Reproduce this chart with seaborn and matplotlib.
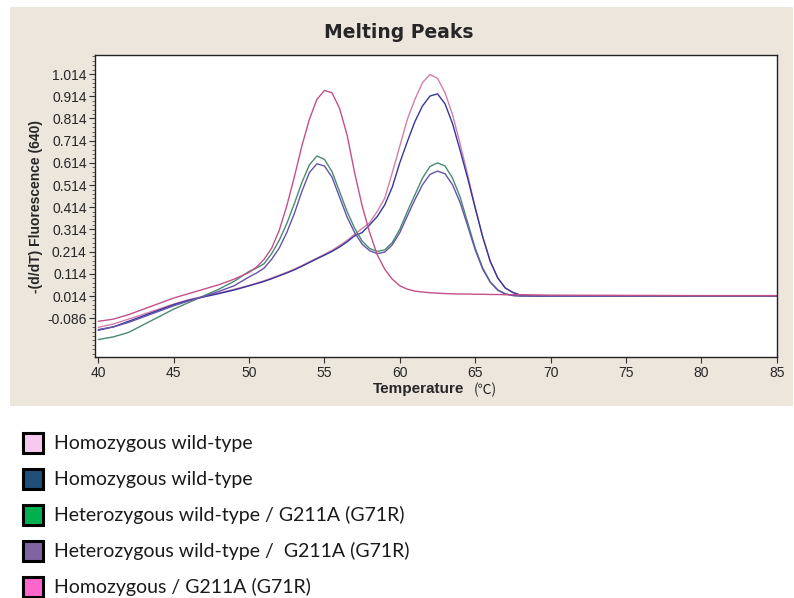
import matplotlib
matplotlib.use("Agg")
import matplotlib.pyplot as plt
from matplotlib.patches import Rectangle
from matplotlib.ticker import FixedLocator
import pandas as pd
import seaborn as sns

# temperature grid (degC)
temps = [40, 41, 42, 43, 44, 45, 46, 47, 48, 49,
         50, 50.5, 51, 51.5, 52, 52.5, 53, 53.5, 54, 54.5,
         55, 55.5, 56, 56.5, 57, 57.5, 58, 58.5, 59, 59.5,
         60, 60.5, 61, 61.5, 62, 62.5, 63, 63.5, 64, 64.5,
         65, 65.5, 66, 66.5, 67, 67.5, 68, 69, 70, 75, 80, 85]

# -(d/dT) fluorescence for each sample
wt_pink = [-0.127, -0.112, -0.090, -0.068, -0.045, -0.022, -0.002, 0.013, 0.028, 0.044,
           0.062, 0.072, 0.083, 0.095, 0.108, 0.121, 0.135, 0.151, 0.168, 0.185,
           0.202, 0.220, 0.241, 0.265, 0.292, 0.318, 0.345, 0.395, 0.455, 0.570,
           0.690, 0.810, 0.900, 0.975, 1.012, 0.995, 0.930, 0.830, 0.700, 0.560,
           0.415, 0.280, 0.170, 0.095, 0.050, 0.030, 0.018, 0.015, 0.015, 0.015, 0.015, 0.015]
wt_blue = [-0.140, -0.125, -0.100, -0.075, -0.050, -0.025, -0.005, 0.010, 0.025, 0.041,
           0.060, 0.070, 0.080, 0.092, 0.105, 0.118, 0.132, 0.148, 0.165, 0.182,
           0.198, 0.215, 0.235, 0.258, 0.285, 0.300, 0.335, 0.372, 0.425, 0.505,
           0.615, 0.710, 0.800, 0.870, 0.915, 0.925, 0.880, 0.790, 0.670, 0.545,
           0.410, 0.280, 0.170, 0.095, 0.050, 0.030, 0.018, 0.014, 0.014, 0.014, 0.014, 0.014]
het_green = [-0.182, -0.170, -0.150, -0.115, -0.080, -0.045, -0.015, 0.015, 0.045, 0.080,
             0.125, 0.140, 0.160, 0.205, 0.265, 0.340, 0.430, 0.525, 0.605, 0.645,
             0.630, 0.575, 0.485, 0.395, 0.320, 0.262, 0.228, 0.215, 0.222, 0.255,
             0.315, 0.395, 0.470, 0.545, 0.598, 0.614, 0.600, 0.545, 0.460, 0.345,
             0.230, 0.140, 0.078, 0.042, 0.024, 0.017, 0.014, 0.014, 0.014, 0.014, 0.014, 0.014]
het_purple = [-0.137, -0.125, -0.105, -0.080, -0.055, -0.030, -0.008, 0.012, 0.035, 0.060,
              0.100, 0.118, 0.140, 0.180, 0.230, 0.300, 0.385, 0.485, 0.570, 0.610,
              0.600, 0.550, 0.460, 0.370, 0.300, 0.248, 0.218, 0.205, 0.212, 0.245,
              0.300, 0.375, 0.448, 0.515, 0.562, 0.577, 0.565, 0.515, 0.435, 0.330,
              0.222, 0.135, 0.076, 0.040, 0.023, 0.016, 0.014, 0.014, 0.014, 0.014, 0.014, 0.014]
hom_mut = [-0.100, -0.090, -0.070, -0.045, -0.020, 0.005, 0.025, 0.045, 0.065, 0.090,
           0.120, 0.145, 0.180, 0.230, 0.310, 0.420, 0.550, 0.690, 0.810, 0.900,
           0.940, 0.930, 0.860, 0.740, 0.570, 0.420, 0.300, 0.200, 0.135, 0.090,
           0.060, 0.045, 0.036, 0.032, 0.029, 0.027, 0.025, 0.024, 0.023, 0.023,
           0.022, 0.022, 0.021, 0.021, 0.020, 0.020, 0.020, 0.019, 0.018, 0.017, 0.016, 0.016]

sample_names = ["wt_pink", "wt_blue", "het_green", "het_purple", "hom_mut"]
line_colors = ["#d27fa9", "#36369a", "#4a8a72", "#6454aa", "#c4508a"]

legend_labels = ["Homozygous wild-type", "Homozygous wild-type",
                 "Heterozygous wild-type / G211A (G71R)",
                 "Heterozygous wild-type /  G211A (G71R)",
                 "Homozygous / G211A (G71R)"]
legend_colors = ["#f9c8ef", "#1f4e79", "#00b050", "#8064a2", "#ff66cc"]

ytick_vals = [1.014, 0.914, 0.814, 0.714, 0.614, 0.514, 0.414, 0.314, 0.214, 0.114, 0.014, -0.086]

df = pd.DataFrame({
    "Temperature": temps * 5,
    "Fluor": wt_pink + wt_blue + het_green + het_purple + hom_mut,
    "Sample": sum([[n] * len(temps) for n in sample_names], []),
})

sns.set_style("white")
plt.rcParams["font.family"] = ["Liberation Sans", "DejaVu Sans"]

fig = plt.figure(figsize=(7.94, 5.98), dpi=100)
fig.patch.set_facecolor("white")
# beige panel behind the chart
fig.patches.append(Rectangle((10 / 794, 1 - 406 / 598), 783 / 794, 399 / 598,
                             transform=fig.transFigure, facecolor="#ece6dd",
                             edgecolor="none", zorder=-5))

ax = fig.add_axes([95 / 794, 1 - 357.3 / 598, 681.7 / 794, 302.3 / 598])
ax.set_zorder(2)
ax.set_facecolor("white")
sns.lineplot(data=df, x="Temperature", y="Fluor", hue="Sample",
             palette=dict(zip(sample_names, line_colors)), linewidth=1.0,
             legend=False, ax=ax)

ax.set_xlim(39.78, 85)
ax.set_ylim(-0.262, 1.100)
ax.set_xticks([40, 45, 50, 55, 60, 65, 70, 75, 80, 85])
ax.yaxis.set_major_locator(FixedLocator(ytick_vals))
ax.set_yticklabels([f"{v:.3f}" for v in ytick_vals])
ax.yaxis.set_minor_locator(FixedLocator([-0.086 + 0.02 * i for i in range(-8, 60)]))
ax.tick_params(axis="both", which="major", direction="out", length=4, width=0.8,
               labelsize=10, color="#333333", pad=2)
ax.tick_params(axis="y", which="minor", direction="out", length=2, width=0.6,
               color="#555555", left=True)
ax.tick_params(left=True, bottom=True)
for s in ax.spines.values():
    s.set_visible(True)
    s.set_color("#222222")
    s.set_linewidth(1.0)

ax.set_xlabel("")
ax.set_ylabel("-(d/dT) Fluorescence (640)", fontsize=10, fontweight="bold", labelpad=4)
ax.yaxis.set_label_coords(-0.077, 0.5)

fig.text(399 / 794, 1 - 33 / 598, "Melting Peaks", ha="center", va="center",
         fontsize=13.5, fontweight="bold", family="DejaVu Sans")
fig.text(419 / 794, 1 - 389 / 598, "Temperature", ha="center", va="center",
         fontsize=11, fontweight="bold")
fig.text(485 / 794, 1 - 390 / 598, "(\u2103)", ha="center", va="center",
         fontsize=10, family=["Noto Sans CJK SC", "DejaVu Sans"])

# legend below the panel
row_y = [443, 479, 515, 551, 587]
for lab, col, yy in zip(legend_labels, legend_colors, row_y):
    fig.patches.append(Rectangle((23 / 794, 1 - (yy + 10) / 598), 20 / 794, 20 / 598,
                                 transform=fig.transFigure, facecolor=col,
                                 edgecolor="black", linewidth=2.2, zorder=2))
    fig.text(54 / 794, 1 - yy / 598, lab, ha="left", va="center",
             fontsize=14, family=["Lato", "DejaVu Sans"], color="#1a1a1a")

fig.savefig("out.png", dpi=100, facecolor="white")
